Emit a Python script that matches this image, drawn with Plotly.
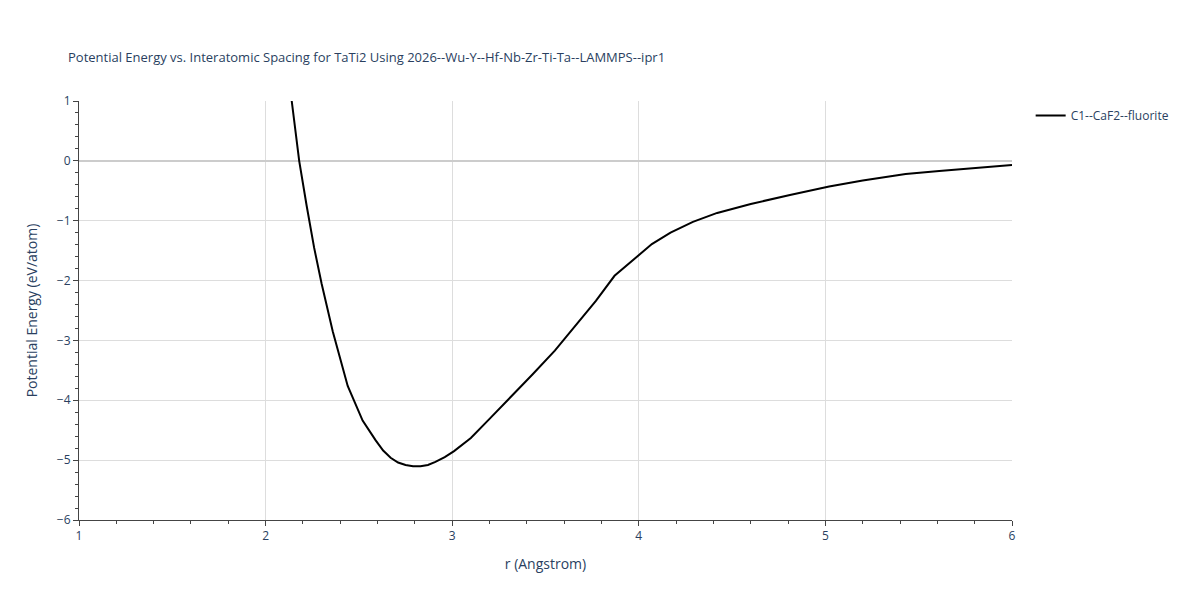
import plotly.graph_objects as go

r = [2.14, 2.18, 2.22, 2.26, 2.30, 2.36, 2.44, 2.52, 2.59, 2.63, 2.67, 2.71, 2.75,
     2.79, 2.83, 2.87, 2.91, 2.96, 3.01, 3.10, 3.20, 3.31, 3.43, 3.55, 3.66, 3.77,
     3.87, 3.98, 4.07, 4.17, 4.29, 4.42, 4.60, 4.81, 5.02, 5.20, 5.43, 5.61, 5.80, 6.00]
energy = [1.0, 0.0, -0.75, -1.45, -2.05, -2.85, -3.76, -4.34, -4.67, -4.84, -4.96,
          -5.04, -5.08, -5.10, -5.10, -5.08, -5.03, -4.95, -4.85, -4.63, -4.31,
          -3.96, -3.57, -3.17, -2.75, -2.34, -1.92, -1.62, -1.39, -1.20, -1.02,
          -0.87, -0.72, -0.57, -0.43, -0.33, -0.22, -0.17, -0.12, -0.07]

fig = go.Figure()
fig.add_trace(go.Scatter(x=r, y=energy, mode="lines", name="C1--CaF2--fluorite",
                         line=dict(color="black", width=2)))

fig.update_layout(
    width=1200, height=600,
    title=dict(text="Potential Energy vs. Interatomic Spacing for TaTi2 Using 2026--Wu-Y--Hf-Nb-Zr-Ti-Ta--LAMMPS--ipr1",
               font=dict(size=13), x=0.05, y=0.925),
    plot_bgcolor="white", paper_bgcolor="white",
    showlegend=True,
    legend=dict(x=1.02, y=1, yanchor="top"),
    margin=dict(l=71, r=196, t=93, b=88),
)
fig.update_xaxes(title="r (Angstrom)", range=[1, 6], showgrid=True, gridcolor="#dddddd",
                 ticks="outside", showline=True, linecolor="#444", zeroline=False,
                 dtick=1, minor=dict(ticks="outside", dtick=0.2, ticklen=3))
fig.update_yaxes(title="Potential Energy (eV/atom)", range=[-6, 1], showgrid=True,
                 gridcolor="#dddddd", ticks="outside", showline=True, linecolor="#444",
                 zeroline=True, zerolinecolor="#cccccc", zerolinewidth=2, dtick=1,
                 minor=dict(ticks="outside", dtick=0.2, ticklen=3))

fig.write_html("out.html")
